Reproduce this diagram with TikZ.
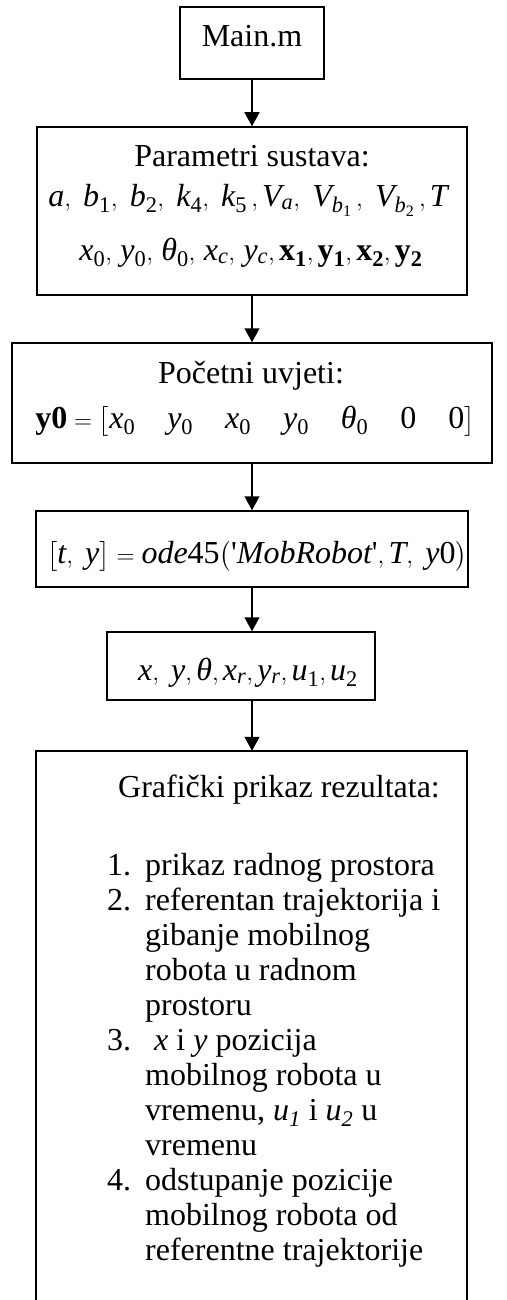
\documentclass[tikz,border=0pt]{standalone}
\usepackage{amsmath}
\usepackage{fontspec}
\setmainfont{Liberation Serif}
\usetikzlibrary{arrows.meta}
\newcommand{\tht}{\text{\itshape θ}}
\newcommand{\I}[1]{\mathit{#1}}
\newcommand{\R}[1]{\mathrm{#1}}
\newcommand{\cm}{\mathpunct{\mathrm{,}}}
\newcommand{\eqs}{\mathrel{\mathrm{=}}}
\newcommand{\ap}{\text{\upshape\textquotesingle}}
\begin{document}
\begin{tikzpicture}[x=1pt,y=-1pt,
  every node/.style={font=\fontsize{32}{35}\selectfont},
  box/.style={draw,line width=1.5pt,inner sep=0pt},
  arr/.style={line width=1.5pt,-{Triangle[length=14pt,width=15pt]}},
  txt/.style={inner sep=0pt,anchor=base}]
\useasboundingbox (0,0) rectangle (506,1300);
% boxes
\node[box,minimum width=144pt,minimum height=72pt] (main) at (252,43) {};
\node[box,minimum width=430pt,minimum height=168pt] (b2) at (252,211) {};
\node[box,minimum width=480pt,minimum height=120pt] (b3) at (252,403) {};
\node[box,minimum width=432pt,minimum height=76pt] (b4) at (252,549) {};
\node[box,minimum width=268pt,minimum height=68pt] (b5) at (241,666) {};
\node[inner sep=0pt,minimum width=431pt,minimum height=549pt] (b6) at (251.5,1025.5) {};
\draw[line width=1.5pt] (b6.south west) -- (b6.north west) -- (b6.north east) -- (b6.south east);
% texts
\node[txt] (tmain) at (252,47) {Main.m};
\node[txt] (t2a) at (252,167) {Parametri sustava:};
\node[txt] (t2b) at (248,206) {$\I{a}\cm\ \I{b}_{\R1}\cm\ \I{b}_{\R2}\cm\ \I{k}_{\R4}\cm\ \I{k}_{\R5}\,\cm\I{V}_{\I{a}}\cm\ \I{V}_{\I{b}_{\R1}}\,\cm\ \I{V}_{\I{b}_{\R2}}\,\cm\I{T}$};
\node[txt] (t2c) at (251,260) {$\I{x}_{\R0}\cm\,\I{y}_{\R0}\cm\,\tht_{\R0}\cm\,\I{x}_{\I{c}}\cm\,\I{y}_{\I{c}}\cm\mathbf{x}_{\mathbf{1}}\cm\mathbf{y}_{\mathbf{1}}\cm\mathbf{x}_{\mathbf{2}}\cm\mathbf{y}_{\mathbf{2}}$};
\node[txt] (t3a) at (251,383) {Početni uvjeti:};
\node[txt] (t3b) at (255,428) {$\mathbf{y0}\eqs\bigl[\I{x}_{\R0}\quad \I{y}_{\R0}\quad \I{x}_{\R0}\quad \I{y}_{\R0}\quad \tht_{\R0}\quad \R0\quad \R0\bigr]$};
\node[txt] (t4) at (257,563) {$\bigl[\I{t}\cm\ \I{y}\bigr]\eqs\I{ode}\R{45}\bigl(\ap\I{MobRobot}\ap\cm\I{T}\cm\ \I{y}\R0\bigr)$};
\node[txt] (t5) at (248,680) {$\I{x}\cm\ \I{y}\cm\tht\cm\I{x}_{\I{r}}\cm\I{y}_{\I{r}}\cm\I{u}_{\R1}\cm\I{u}_{\R2}$};
\node[txt,anchor=base west] (t6a) at (118,797) {Grafički prikaz rezultata:};
\node[txt,anchor=base west] (t6b) at (107,875) {\renewcommand{\arraystretch}{1}%
\begin{tabular}[t]{@{}p{38pt}@{}l@{}}
1. & prikaz radnog prostora\\
2. & referentan trajektorija i\\
   & gibanje mobilnog\\
   & robota u radnom\\
   & prostoru\\
3. & \hspace{9pt}\textit{x} i \textit{y} pozicija\\
   & mobilnog robota u\\
   & vremenu, \textit{u}\textsubscript{\textit{1}} i \textit{u}\textsubscript{\textit{2}} u\\
   & vremenu\\
4. & odstupanje pozicije\\
   & mobilnog robota od\\
   & referentne trajektorije
\end{tabular}};
% arrows
\draw[arr] (main.south) -- (b2.north);
\draw[arr] (b2.south) -- (b3.north);
\draw[arr] (b3.south) -- (b4.north);
\draw[arr] (b4.south) -- (b4.south |- b5.north);
\draw[arr] (b4.south |- b5.south) -- (b4.south |- b6.north);
\end{tikzpicture}
\end{document}
